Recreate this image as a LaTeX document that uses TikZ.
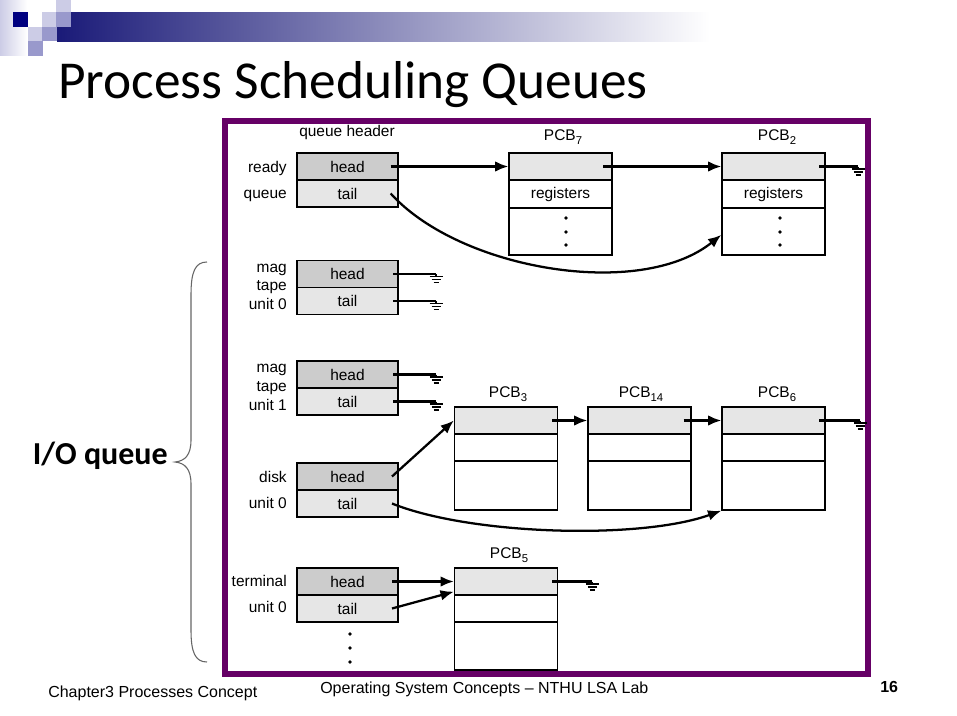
\documentclass[tikz,border=0pt]{standalone}
\usepackage{fontspec}
\setmainfont{Liberation Sans}
\newfontfamily\calib{Carlito}
\usetikzlibrary{arrows.meta}
\definecolor{framec}{RGB}{102,0,102}
\definecolor{headgray}{RGB}{204,204,204}
\definecolor{tailgray}{RGB}{230,230,230}
\definecolor{navyd}{RGB}{0,0,128}
\definecolor{lav}{RGB}{204,204,230}
\definecolor{lavm}{RGB}{153,153,204}
\definecolor{barc}{RGB}{26,26,120}
\newcommand\labf{\fontsize{11.6}{13}\selectfont}
\newcommand\pcb[1]{PCB\raisebox{-0.5ex}{\fontsize{8.5}{9}\selectfont #1}}
\begin{document}
\begin{tikzpicture}[x=0.75pt,y=-0.75pt,
  qcell/.style={draw, line width=1pt, inner sep=0pt, font=\labf, minimum width=75.75pt, minimum height=20.25pt},
  qhead/.style={qcell, fill=headgray},
  qtail/.style={qcell, fill=tailgray},
  pcell/.style={draw, line width=1pt, inner sep=0pt, font=\labf, minimum width=77.25pt},
  ptop/.style={pcell, fill=tailgray, minimum height=20.25pt},
  pmid/.style={pcell, minimum height=20.25pt},
  lbl/.style={font=\labf, anchor=base east, inner sep=0pt},
  plbl/.style={font=\labf, inner sep=0pt},
  conn/.style={line width=1.7pt},
  arr/.style={conn, -{Latex[length=10pt,width=8pt]}},
  gnd/.pic={\draw[line width=1.4pt] (0,0)--(0,2.5) (-6.5,2.5)--(6.5,2.5) (-4.5,5.5)--(4.5,5.5) (-2.5,8.5)--(2.5,8.5);},
  dot/.style={circle, fill=black, inner sep=0pt, minimum size=2.8pt},
  brace/.style={draw=black!60, line width=0.8pt}
]
\useasboundingbox (0,0) rectangle (957,715);
\fill[white] (0,0) rectangle (957,715);
% header decoration
\shade[left color=lav, right color=white] (0,0) rectangle (27,55);
\shade[left color=barc, right color=white] (57,12) rectangle (710,41);
\fill[lav] (56,0) rectangle (71,12);
\fill[navyd] (13,12) rectangle (28,27);
\fill[lav] (42,12) rectangle (56,27);
\fill[lavm] (56,12) rectangle (71,27);
\fill[lav] (28,27) rectangle (42,41);
\fill[lavm] (42,27) rectangle (57,41);
\fill[lavm] (28,41) rectangle (43,56);
\node[anchor=base west, inner sep=0pt, font=\calib\fontsize{40}{46}\selectfont] (title) at (58,98) {Process Scheduling Queues};
% frame
\draw[framec, line width=4.5pt] (225,121) rectangle (868,674);
% queue headers
\node[plbl] (qhdr) at (347,132) {queue header};
\node[qhead] (rh) at (347.5,166.5) {head};
\node[qtail] (rt) at (347.5,193.5) {tail};
\node[qhead] (m0h) at (347.5,274) {head};
\node[qtail] (m0t) at (347.5,301) {tail};
\node[qhead] (m1h) at (347.5,374.5) {head};
\node[qtail] (m1t) at (347.5,401.5) {tail};
\node[qhead] (dh) at (347.5,476.5) {head};
\node[qtail] (dt) at (347.5,503.5) {tail};
\node[qhead] (th) at (347.5,581.5) {head};
\node[qtail] (tt) at (347.5,608.5) {tail};
% left labels
\node[lbl] (l1) at (287,172) {ready};
\node[lbl] (l2) at (287,198) {queue};
\node[lbl] (l3) at (287,272) {mag};
\node[lbl] (l4) at (287,290.5) {tape};
\node[lbl] (l5) at (287,309) {unit 0};
\node[lbl] (l6) at (287,372) {mag};
\node[lbl] (l7) at (287,391) {tape};
\node[lbl] (l8) at (287,410) {unit 1};
\node[lbl] (l9) at (287,482) {disk};
\node[lbl] (l10) at (287,508) {unit 0};
\node[lbl] (l11) at (287,586) {terminal};
\node[lbl] (l12) at (287,612) {unit 0};
% PCB7 and PCB2
\node[plbl] (n7) at (563,137) {\pcb{7}};
\node[ptop] (p7t) at (560.5,166.5) {};
\node[pcell, minimum height=21pt] (p7r) at (560.5,194) {registers};
\node[pcell, minimum height=35.25pt] (p7d) at (560.5,231.5) {};
\node[plbl] (n2) at (777,137) {\pcb{2}};
\node[ptop] (p2t) at (773.5,166.5) {};
\node[pcell, minimum height=21pt] (p2r) at (773.5,194) {registers};
\node[pcell, minimum height=35.25pt] (p2d) at (773.5,231.5) {};
\foreach \yy [count=\i] in {218,232,245}{
  \node[dot] (d7\i) at (566,\yy) {};
  \node[dot] (d2\i) at (780,\yy) {};
}
% PCB3, PCB14, PCB6
\node[plbl] (n3) at (508,394) {\pcb{3}};
\node[ptop] (p3t) at (506,420.5) {};
\node[pmid] (p3m) at (506,447.5) {};
\node[pcell, minimum height=36.75pt] (p3b) at (506,485.5) {};
\node[plbl] (n14) at (641,394) {\pcb{14}};
\node[ptop] (p14t) at (639.5,420.5) {};
\node[pmid] (p14m) at (639.5,447.5) {};
\node[pcell, minimum height=36.75pt] (p14b) at (639.5,485.5) {};
\node[plbl] (n6) at (777,394) {\pcb{6}};
\node[ptop] (p6t) at (773.5,420.5) {};
\node[pmid] (p6m) at (773.5,447.5) {};
\node[pcell, minimum height=36.75pt] (p6b) at (773.5,485.5) {};
% PCB5
\node[plbl] (n5) at (509,555) {\pcb{5}};
\node[ptop] (p5t) at (506,581.5) {};
\node[pmid] (p5m) at (506,608.5) {};
\node[pcell, minimum height=36pt] (p5b) at (506,646) {};
% dots under terminal
\foreach \yy [count=\i] in {634,648,662}{
  \node[dot] (dq\i) at (350,\yy) {};
}
% grounds
\coordinate (g1) at (858,166.5);
\coordinate (g2) at (436,274);
\coordinate (g3) at (436,301);
\coordinate (g4) at (436,374.5);
\coordinate (g5) at (436,401.5);
\coordinate (g6) at (860,420.5);
\coordinate (g7) at (592,581.5);
\foreach \g in {g1,g2,g3,g4,g5,g6,g7}{ \pic at (\g) {gnd}; }
% connectors
\draw[arr] ([xshift=-6pt]rh.east) -- (p7t.west);
\draw[arr] ([xshift=-7pt]p7t.east) -- (p2t.west);
\draw[conn] ([xshift=-5pt]p2t.east) -- (g1);
\draw[arr] ([xshift=-6pt]rt.east) .. controls (460,270) and (640,300) .. ([yshift=-2.5pt]p2d.west);
\draw[conn] ([xshift=-4pt]m0h.east) -- (g2);
\draw[conn] ([xshift=-4pt]m0t.east) -- (g3);
\draw[conn] ([xshift=-4pt]m1h.east) -- (g4);
\draw[conn] ([xshift=-4pt]m1t.east) -- (g5);
\draw[arr] ([xshift=-4.5pt]p3t.east) -- (p14t.west);
\draw[arr] ([xshift=-6pt]p14t.east) -- (p6t.west);
\draw[conn] ([xshift=-5pt]p6t.east) -- (g6);
\draw[arr] ([xshift=-5pt]dh.east) -- (p3t.west);
\draw[arr] ([xshift=-5pt]dt.east) .. controls (470,535) and (640,540) .. (p6b.south west);
\draw[arr] ([xshift=-5pt]th.east) -- (p5t.west);
\draw[arr] ([xshift=-5pt]tt.east) -- ([yshift=3pt]p5t.south west);
\draw[conn] ([xshift=-4.5pt]p5t.east) -- (g7);
% brace and I/O label
\draw[brace] (207,262) .. controls (195,262) and (191,272) .. (191,295) -- (191,440) .. controls (191,455) and (185,461) .. (175,462) .. controls (185,463) and (191,469) .. (191,484) -- (191,630) .. controls (191,652) and (195,662) .. (207,662);
\node[anchor=east, inner sep=0pt, font=\calib\bfseries\fontsize{24}{28}\selectfont] (io) at (168,456) {I/O queue};
% footer
\node[anchor=base west, inner sep=0pt, font=\fontsize{12}{14}\selectfont] (f1) at (48,697) {Chapter3 Processes Concept};
\node[anchor=base west, inner sep=0pt, font=\fontsize{12}{14}\selectfont] (f2) at (320,693) {Operating System Concepts – NTHU LSA Lab};
\node[anchor=base west, inner sep=0pt, font=\bfseries\fontsize{12}{14}\selectfont] (f3) at (880,692) {16};
\end{tikzpicture}
\end{document}
